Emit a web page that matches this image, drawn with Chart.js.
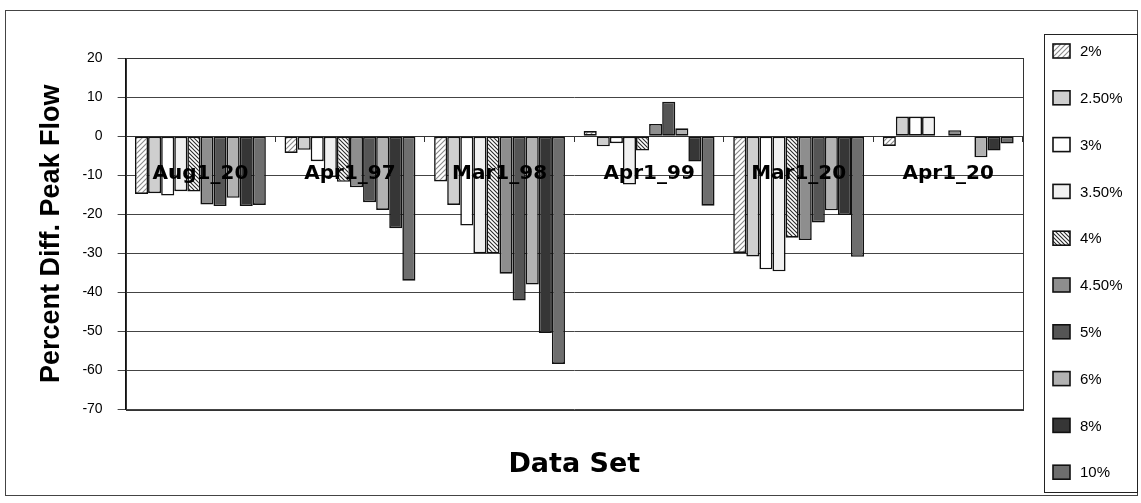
<!DOCTYPE html>
<html lang="en">

<head>
    <meta charset="UTF-8">
    <title>Percent Diff. Peak Flow</title>
    <script src="https://cdn.jsdelivr.net/npm/chart.js"></script>
    <style>
        html,
        body {
            margin: 0;
            padding: 0;
            background: #fff;
        }

        .chart-wrap {
            width: 1141px;
            height: 503px;
        }
    </style>
</head>

<body>
    <div class="chart-wrap">
        <canvas id="peakChart" width="1141" height="503"></canvas>
    </div>

    <script>
        const dataSets = ['Aug1_20', 'Apr1_97', 'Mar1_98', 'Apr1_99', 'Mar1_20', 'Apr1_20'];
        const seriesNames = ['2%', '2.50%', '3%', '3.50%', '4%', '4.50%', '5%', '6%', '8%', '10%'];

        const pct2 = [-14.8, -4.3, -11.6, 1.3, -29.9, -2.5];
        const pct2_5 = [-14.6, -3.5, -17.6, -2.6, -30.8, 5.0];
        const pct3 = [-15.2, -6.4, -22.9, -1.8, -34.1, 5.0];
        const pct3_5 = [-14.1, -10.5, -30.0, -12.4, -34.6, 5.0];
        const pct4 = [-14.2, -11.7, -30.0, -3.7, -26.0, null];
        const pct4_5 = [-17.5, -13.1, -35.2, 3.1, -26.6, 1.5];
        const pct5 = [-17.9, -16.9, -42.1, 8.8, -22.1, null];
        const pct6 = [-15.8, -18.9, -38.0, 2.0, -19.0, -5.4];
        const pct8 = [-17.9, -23.6, -50.4, -6.5, -20.2, -3.7];
        const pct10 = [-17.6, -37.0, -58.3, -17.8, -30.9, -1.9];

        const yTicks = [20, 10, 0, -10, -20, -30, -40, -50, -60, -70];

        // hatch fills for the 2% and 4% series
        function hatch(size, color, width, forward) {
            const c = document.createElement('canvas');
            c.width = size;
            c.height = size;
            const g = c.getContext('2d');
            g.fillStyle = '#fff';
            g.fillRect(0, 0, size, size);
            g.strokeStyle = color;
            g.lineWidth = width;
            g.beginPath();
            if (forward) {
                g.moveTo(0, size); g.lineTo(size, 0);
                g.moveTo(-1, 1); g.lineTo(1, -1);
                g.moveTo(size - 1, size + 1); g.lineTo(size + 1, size - 1);
            } else {
                g.moveTo(0, 0); g.lineTo(size, size);
                g.moveTo(-1, size - 1); g.lineTo(1, size + 1);
                g.moveTo(size - 1, -1); g.lineTo(size + 1, 1);
            }
            g.stroke();
            return g.createPattern(c, 'repeat');
        }

        const fills = [
            hatch(5, '#8a8a8a', 1.1, true),
            '#cfcfcf',
            '#ffffff',
            '#f1f1f1',
            hatch(4, '#2a2a2a', 1.1, false),
            '#8e8e8e',
            '#555555',
            '#b2b2b2',
            '#363636',
            '#6e6e6e'
        ];
        const values = [pct2, pct2_5, pct3, pct3_5, pct4, pct4_5, pct5, pct6, pct8, pct10];

        const datasets = seriesNames.map((name, i) => ({
            label: name,
            data: values[i],
            backgroundColor: fills[i],
            borderColor: '#111',
            borderWidth: 1.6,
            borderSkipped: false,
            categoryPercentage: 0.875,
            barPercentage: 1.0
        }));

        // chart frame, plot box and the boxed legend on the right
        const framePlugin = {
            id: 'frame',
            beforeDraw(chart) {
                const ctx = chart.ctx;
                ctx.save();
                ctx.fillStyle = '#fff';
                ctx.fillRect(0, 0, chart.width, chart.height);
                ctx.strokeStyle = '#444';
                ctx.lineWidth = 1;
                ctx.strokeRect(5.5, 10.5, 1132, 485);
                ctx.restore();
            },
            afterDraw(chart) {
                const ctx = chart.ctx;
                const a = chart.chartArea;
                ctx.save();
                ctx.strokeStyle = '#333';
                ctx.lineWidth = 1;
                ctx.strokeRect(Math.round(a.left) + 0.5, Math.round(a.top) + 0.5,
                    Math.round(a.right - a.left), Math.round(a.bottom - a.top));

                const lx = 1044.5, ly = 34.5, lw = 93, lh = 458;
                ctx.strokeStyle = '#222';
                ctx.strokeRect(lx, ly, lw, lh);
                ctx.font = '15px Arial, "Liberation Sans"';
                ctx.textBaseline = 'middle';
                chart.data.datasets.forEach((ds, i) => {
                    const cy = 51 + i * 46.8;
                    ctx.fillStyle = ds.backgroundColor;
                    ctx.fillRect(1053, cy - 7, 17, 14);
                    ctx.strokeStyle = '#111';
                    ctx.lineWidth = 1.6;
                    ctx.strokeRect(1053, cy - 7, 17, 14);
                    ctx.fillStyle = '#000';
                    ctx.fillText(ds.label, 1080, cy + 1);
                });
                ctx.restore();
            }
        };

        new Chart(document.getElementById('peakChart'), {
            type: 'bar',
            data: {
                labels: dataSets,
                datasets: datasets
            },
            options: {
                responsive: false,
                animation: false,
                layout: {
                    padding: { left: 31, right: 118, top: 58, bottom: 12 }
                },
                plugins: {
                    legend: { display: false },
                    tooltip: { enabled: false },
                    title: {
                        display: true,
                        text: 'Data Set',
                        position: 'bottom',
                        fullSize: false,
                        color: '#000',
                        font: { family: '"DejaVu Sans", Verdana', size: 27, weight: 'bold' },
                        padding: { top: 39, bottom: 10 }
                    }
                },
                scales: {
                    x: {
                        position: { y: 0 },
                        grid: {
                            drawOnChartArea: false,
                            drawTicks: true,
                            tickLength: 5,
                            color: '#333'
                        },
                        border: { display: true, color: '#333' },
                        ticks: {
                            z: 1,
                            padding: 21,
                            color: '#000',
                            maxRotation: 0,
                            autoSkip: false,
                            font: { family: '"DejaVu Sans", Verdana', size: 20, weight: 'bold' }
                        }
                    },
                    y: {
                        min: -70,
                        max: 20,
                        afterBuildTicks(scale) {
                            scale.ticks = yTicks.map(v => ({ value: v }));
                        },
                        grid: {
                            color: '#444',
                            lineWidth: 1,
                            tickLength: 8
                        },
                        border: { color: '#111' },
                        ticks: {
                            padding: 15,
                            color: '#000',
                            font: { family: 'Arial, "Liberation Sans"', size: 14 }
                        },
                        title: {
                            display: true,
                            text: 'Percent Diff. Peak Flow',
                            color: '#000',
                            font: { family: 'Arial, "Liberation Sans"', size: 27, weight: 'bold' },
                            padding: { top: 4, bottom: 0 }
                        }
                    }
                }
            },
            plugins: [framePlugin]
        });
    </script>
</body>

</html>
